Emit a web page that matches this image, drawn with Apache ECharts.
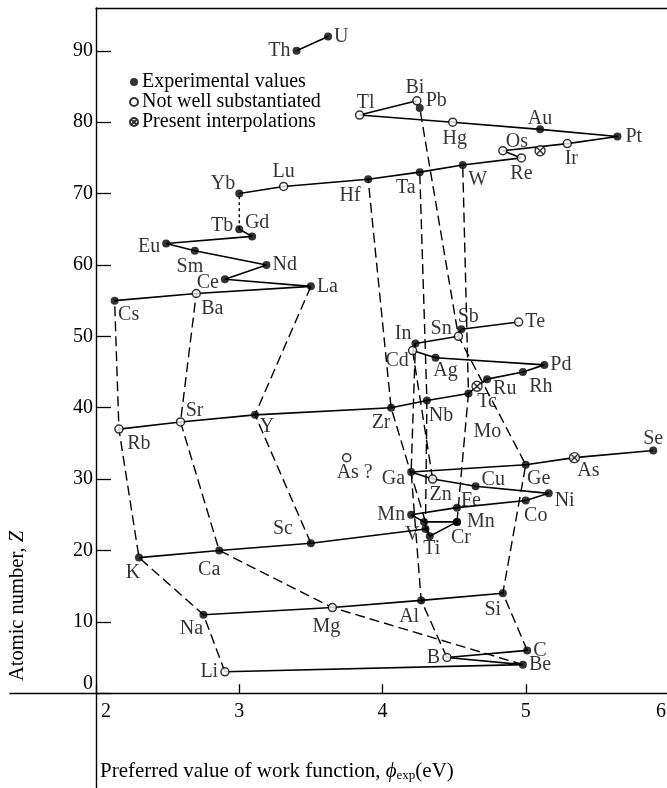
<!DOCTYPE html>
<html><head><meta charset="utf-8">
<script src="https://cdn.jsdelivr.net/npm/echarts@6/dist/echarts.min.js"></script>
<style>html,body{margin:0;padding:0;background:#fff}#c{width:667px;height:788px}</style>
</head><body><div id="c"></div>
<script>
// ---- data ----
const ids   = ['Li','Be','B','C','Na','Mg','Al','Si','K','Ca','Sc','Ti','V','X24','Cr','Mn','Mn2','Fe','Co','Ni','Cu','Zn','Ga','Ge','As','AsQ','Se','Rb','Sr','Y','Zr','Nb','Mo','Tc','Ru','Rh','Pd','Ag','Cd','In','Sn','Sb','Te','Cs','Ba','La','Ce','Nd','Sm','Eu','Gd','Tb','Yb','Lu','Hf','Ta','W','Re','Os','OsI','Ir','Pt','Au','Hg','Tl','Pb','Bi','Th','U'];
const names = ['Li','Be','B','C','Na','Mg','Al','Si','K','Ca','Sc','Ti','V','','Cr','Mn','Mn','Fe','Co','Ni','Cu','Zn','Ga','Ge','As','As ?','Se','Rb','Sr','Y','Zr','Nb','Mo','Tc','Ru','Rh','Pd','Ag','Cd','In','Sn','Sb','Te','Cs','Ba','La','Ce','Nd','Sm','Eu','Gd','Tb','Yb','Lu','Hf','Ta','W','Re','Os','','Ir','Pt','Au','Hg','Tl','Pb','Bi','Th','U'];
const phi   = [2.90,4.98,4.45,5.01,2.75,3.65,4.27,4.84,2.30,2.86,3.50,4.33,4.30,4.29,4.52,4.20,4.52,4.52,5.00,5.16,4.65,4.35,4.20,5.00,5.34,3.75,5.89,2.16,2.59,3.11,4.06,4.31,4.60,4.66,4.73,4.98,5.13,4.37,4.21,4.23,4.53,4.55,4.95,2.13,2.70,3.50,2.90,3.19,2.69,2.49,3.09,3.00,3.00,3.31,3.90,4.26,4.56,4.97,4.84,5.10,5.29,5.64,5.10,4.49,3.84,4.26,4.24,3.40,3.62];
const Z     = [3,4,5,6,11,12,13,14,19,20,21,22,23,24,24,25,24,26,27,28,29,30,31,32,33,33,34,37,38,39,40,41,42,43,44,45,46,47,48,49,50,51,52,55,56,57,58,60,62,63,64,65,70,71,72,73,74,75,76,76,77,78,79,80,81,82,83,90,92];
// e = experimental, o = not well substantiated, x = present interpolation
const kind  = ['o','e','o','e','e','o','e','e','e','e','e','e','e','e','e','e','e','e','e','e','e','o','e','e','x','o','e','o','o','e','e','e','e','x','e','e','e','e','o','e','o','e','o','e','o','e','e','e','e','e','e','e','e','o','e','e','e','o','o','x','o','e','e','o','o','e','o','e','e'];

// solid lines (rows)
const row2  = ['Li','Be','B','C'];
const row3  = ['Na','Mg','Al','Si'];
const row4  = ['K','Ca','Sc','V','Ti','Cr','X24','Mn','Fe','Co','Ni','Cu','Zn','Ga','Ge','As','Se'];
const row5  = ['Rb','Sr','Y','Zr','Nb','Mo','Tc','Ru','Rh','Pd','Ag','Cd','In','Sn','Sb','Te'];
const row6a = ['Cs','Ba','La','Ce','Nd','Sm','Eu','Gd','Tb'];
const row6b = ['Yb','Lu','Hf','Ta','W','Re','Os','Ir','Pt','Au','Hg','Tl','Bi'];
const row7  = ['Th','U'];
// dashed lines (groups)
const grp1  = ['Li','Na','K','Rb','Cs'];
const grp2  = ['Be','Mg','Ca','Sr','Ba'];
const grp3  = ['Sc','Y','La'];
const grp4  = ['Ti','Zr','Hf'];
const grp5  = ['V','Nb','Ta'];
const grp6  = ['Cr','Mo','W'];
const grp12 = ['Zn','Cd'];
const grp13 = ['B','Al','Ga','In'];
const grp14 = ['C','Si','Ge','Sn','Pb'];
const grpF  = ['Tb','Yb'];

const yTicks = [0,10,20,30,40,50,60,70,80,90];
const legendNames = ['Experimental values','Not well substantiated','Present interpolations'];

// ---- label placement (style only) ----
const place = {
 Th:['left',0,0],U:['right',0,0],Tl:['top',6,4],Bi:['top',-2,4],Pb:['right',0,-7],Hg:['bottom',2,0],Au:['top',0,5],
 Pt:['right',2,0],Os:['top',14,8],Re:['bottom',0,-1],Ir:['bottom',4,-2],Yb:['left',2,-10],Lu:['top',0,2],
 Hf:['bottom',-18,0],Ta:['bottom',-14,0],W:['bottom',15,-1],Tb:['left',0,-4],Gd:['top',5,2],Eu:['left',0,3],
 Sm:['bottom',-5,0],Nd:['right',0,0],Ce:['left',0,4],La:['right',0,0],Cs:['bottom',14,-2],Ba:['bottom',16,-2],
 Rb:['bottom',20,-2],Sr:['top',14,6],Y:['bottom',12,-4],Zr:['bottom',-10,-1],Nb:['bottom',14,-1],Mo:['bottom',19,22],
 Tc:['bottom',10,-2],Ru:['right',0,10],Rh:['bottom',18,-1],Pd:['right',0,0],Ag:['bottom',10,-3],Cd:['left',3,10],
 In:['left',2,-10],Sn:['left',0,-8],Sb:['top',7,4],Te:['right',0,0],Ga:['left',0,7],Zn:['bottom',8,-1],Cu:['right',0,-6],
 Ge:['bottom',13,-2],As:['bottom',14,-5],Se:['top',0,4],AsQ:['bottom',8,-2],Ni:['right',0,7],Co:['bottom',10,-1],
 Fe:['right',-2,-7],Mn:['left',0,0],Mn2:['right',4,0],Cr:['bottom',4,0],V:['left',0,6],Ti:['bottom',2,-3],
 Sc:['left',-12,-15],K:['bottom',-6,-1],Ca:['bottom',-10,3],Na:['bottom',-12,-2],Mg:['bottom',-6,2],Li:['left',0,0],
 Al:['bottom',-12,0],Si:['bottom',-10,0],B:['left',0,0],C:['right',0,0],Be:['right',0,0]
};

const FONT = 'Liberation Serif';
const INK = '#000';
const FS = 20;
function pt(id){const i=ids.indexOf(id);return [phi[i],Z[i]];}
function pts(k){
  const out=[];
  ids.forEach((id,i)=>{
    if(kind[i]!==k) return;
    const p=place[id]||['right',0,0];
    out.push({value:[phi[i],Z[i]],name:names[i],
      label:{show:names[i]!=='',formatter:'{b}',position:p[0],offset:[p[1],p[2]],distance:2,
        color:INK,fontFamily:FONT,fontSize:FS}});
  });
  return out;
}
const crossPath='path://M10,0A10,10,0,1,1,-10,0A10,10,0,1,1,10,0ZM-7.07,-7.07L7.07,7.07M7.07,-7.07L-7.07,7.07';

const series=[];
[row2,row3,row4,row5,row6a,row6b,row7].forEach(r=>series.push({type:'line',data:r.map(pt),symbol:'none',silent:true,z:2,
  lineStyle:{color:INK,width:1.6},animation:false}));
[grp1,grp2,grp3,grp4,grp5,grp6,grp12,grp13,grp14].forEach(r=>series.push({type:'line',data:r.map(pt),symbol:'none',silent:true,z:2,
  lineStyle:{color:INK,width:1.4,type:[10,5]},animation:false}));
series.push({type:'line',data:grpF.map(pt),symbol:'none',silent:true,z:2,lineStyle:{color:INK,width:1.4,type:[3,3]},animation:false});

const labelStyle={show:true,formatter:'{b}',color:INK,fontFamily:FONT,fontSize:FS};
series.push({name:legendNames[0],type:'scatter',data:pts('e'),symbol:'circle',symbolSize:8,z:5,
  itemStyle:{color:INK},label:labelStyle,animation:false});
series.push({name:legendNames[1],type:'scatter',data:pts('o'),symbol:'circle',symbolSize:8,z:5,
  itemStyle:{color:'#fff',borderColor:INK,borderWidth:1.5},label:labelStyle,animation:false});
series.push({name:legendNames[2],type:'scatter',data:pts('x'),symbol:crossPath,symbolSize:10,z:5,
  itemStyle:{color:'#fff',borderColor:INK,borderWidth:1.4},label:labelStyle,animation:false});

const chart=echarts.init(document.getElementById('c'),null,{renderer:'canvas'});
chart.setOption({
  backgroundColor:'#fff',
  animation:false,
  grid:[
    {left:96,right:-2,top:8,bottom:94.8,outerBoundsMode:'none',containLabel:false},
    {left:10,width:86,top:692.2,height:1,outerBoundsMode:'none',containLabel:false},
    {left:96,width:1,top:693.2,bottom:0,outerBoundsMode:'none',containLabel:false}
  ],
  legend:{data:legendNames,orient:'vertical',left:124,top:67,itemGap:0,itemWidth:8,itemHeight:8,selectedMode:false,
    textStyle:{fontFamily:FONT,fontSize:FS,color:INK,lineHeight:19,padding:[0,0,0,-1]}},
  xAxis:[
    {type:'value',gridIndex:0,min:2,max:6,interval:1,position:'bottom',
     axisLine:{onZero:false,lineStyle:{color:INK,width:1.4}},
     axisTick:{inside:true,length:9,lineStyle:{color:INK,width:1.3}},
     axisLabel:{margin:9,color:INK,fontFamily:FONT,fontSize:FS,
       formatter:v=>v===2?'{a|2}':(v===6?'{b|6}':String(v)),
       rich:{a:{padding:[0,0,0,20],fontFamily:FONT,fontSize:FS,color:INK},b:{padding:[0,16,0,0],fontFamily:FONT,fontSize:FS,color:INK}}},
     splitLine:{show:false}},
    {type:'value',gridIndex:0,min:2,max:6,position:'top',axisLine:{show:true,onZero:false,lineStyle:{color:INK,width:1.4}},
     axisTick:{show:false},axisLabel:{show:false},splitLine:{show:false}},
    {type:'value',gridIndex:1,min:0,max:1,position:'bottom',axisLine:{show:true,onZero:false,lineStyle:{color:INK,width:1.4}},
     axisTick:{show:false},axisLabel:{show:false},splitLine:{show:false}},
    {type:'value',gridIndex:2,show:false,min:0,max:1}
  ],
  yAxis:[
    {type:'value',gridIndex:0,min:0,max:96,interval:10,position:'left',
     axisLine:{show:true,onZero:false,lineStyle:{color:INK,width:1.4}},
     axisTick:{inside:true,length:15,lineStyle:{color:INK,width:1.3}},
     axisLabel:{margin:3,color:INK,fontFamily:FONT,fontSize:FS,showMaxLabel:false,
       formatter:v=>v===0?'{z|0}':String(v),rich:{z:{padding:[0,0,18,0],fontFamily:FONT,fontSize:FS,color:INK}}},
     splitLine:{show:false}},
    {type:'value',gridIndex:1,show:false,min:0,max:1},
    {type:'value',gridIndex:2,min:0,max:1,position:'left',axisLine:{show:true,onZero:false,lineStyle:{color:INK,width:1.4}},
     axisTick:{show:false},axisLabel:{show:false},splitLine:{show:false}}
  ],
  graphic:[
    {type:'text',x:100,y:771,style:{text:'Preferred value of work function, {i|ϕ}{s|exp}(eV)',fill:INK,
      font:'21px "Liberation Serif"',verticalAlign:'middle',
      rich:{i:{fontFamily:FONT,fontSize:21,fontStyle:'italic',fill:INK},s:{fontFamily:FONT,fontSize:13,padding:[10,0,0,0],fill:INK}}}},
    {type:'text',x:18,y:606,rotation:Math.PI/2,style:{text:'Atomic number, {i|Z}',fill:INK,font:'20.5px "Liberation Serif"',
      align:'center',verticalAlign:'middle',rich:{i:{fontFamily:FONT,fontSize:20.5,fontStyle:'italic',fill:INK}}}}
  ],
  series:series
});
</script></body></html>
